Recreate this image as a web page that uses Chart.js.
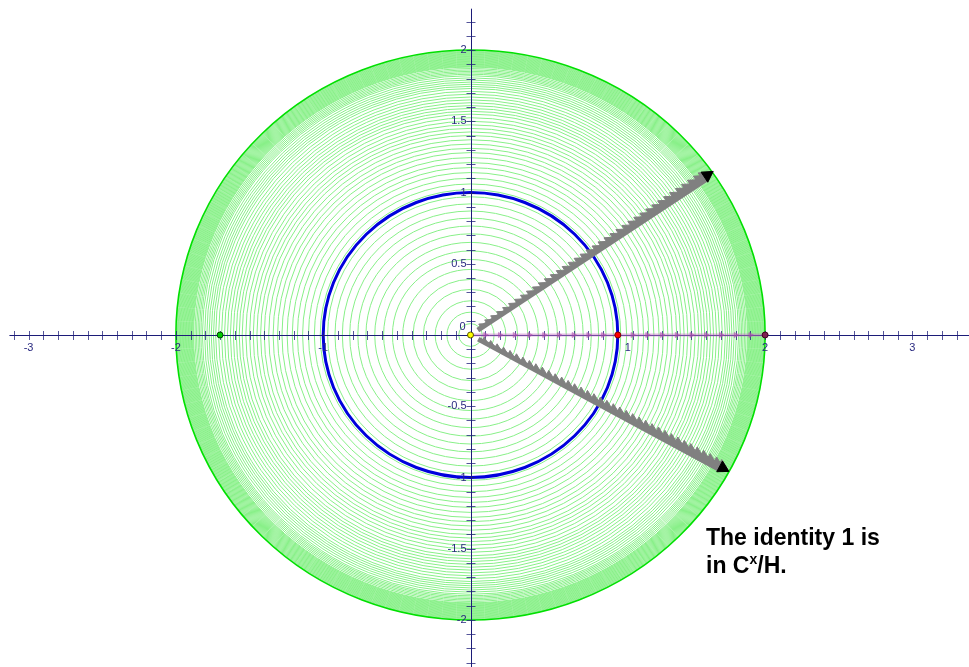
<!DOCTYPE html>
<html>
<head>
<meta charset="utf-8">
<script src="https://cdn.jsdelivr.net/npm/chart.js@4.4.1/dist/chart.umd.min.js"></script>
<style>
  body { margin: 0; background: #fff; }
  #wrap { position: relative; width: 969px; height: 667px; }
  #note {
    position: absolute; left: 706px; top: 523px;
    font: bold 23px "Liberation Sans", Arial, sans-serif;
    line-height: 28px; color: #000;
  }
  #note sup { font-size: 14px; line-height: 0; vertical-align: 9px; }
</style>
</head>
<body>
<div id="wrap">
  <canvas id="plane" width="969" height="667"></canvas>
  <div id="note">The identity 1 is<br>in C<sup>x</sup>/H.</div>
</div>
<script>
// view window of the complex plane
const xRange = [-3.194, 3.384];
const yRange = [-2.33, 2.351];

// tick labels on the axes
const xLabels = [-3, -2, -1, 1, 2, 3];
const yLabels = [2, 1.5, 1, 0.5, -0.5, -1, -1.5, -2];

// radii of the green circles (denser towards |z| = 2)
const greenRadii = [0.08, 0.16, 0.24, 0.32, 0.39, 0.46, 0.53, 0.59, 0.65, 0.71, 0.765, 0.82,
  0.87, 0.92, 0.97, 1.02, 1.06, 1.1, 1.14, 1.175, 1.21, 1.245, 1.28, 1.31, 1.34, 1.37, 1.4,
  1.425, 1.45, 1.475, 1.5, 1.525, 1.55, 1.57, 1.59, 1.61, 1.63, 1.65, 1.67, 1.69, 1.71, 1.73,
  1.745, 1.76, 1.775, 1.79, 1.805, 1.82, 1.83, 1.84, 1.85, 1.86, 1.87, 1.88, 1.885, 1.89,
  1.895, 1.9, 1.905, 1.91, 1.915, 1.92, 1.925, 1.93, 1.935, 1.94, 1.945, 1.95, 1.955, 1.96,
  1.965, 1.97, 1.975, 1.98, 1.985, 1.99, 1.995];
const outerRadius = 2;
const unitRadius = 1;

// the two rays of arrows (angle in degrees, arrow lengths)
const upperAngle = 34.3;
const lowerAngle = -29.2;
const arrowLengths = [0.1, 0.15, 0.2, 0.25, 0.3, 0.35, 0.4, 0.45, 0.5, 0.55, 0.6, 0.65, 0.7,
  0.75, 0.8, 0.85, 0.9, 0.95, 1.0, 1.05, 1.1, 1.15, 1.2, 1.25, 1.3, 1.35, 1.4, 1.45, 1.5, 1.55,
  1.6, 1.65, 1.7, 1.75, 1.8, 1.85, 1.9, 1.94];
const upperTip = 2.0;
const lowerTip = 1.99;

// arrows along the real axis
const realArrows = [0.1, 0.2, 0.3, 0.4, 0.5, 0.6, 0.7, 0.8, 0.9, 1.1, 1.2, 1.3, 1.4, 1.5,
  1.6, 1.7, 1.8, 1.9];

// marked points
const pointX = [0, 1, 2, -1.7];
const pointFill = ['#ffff00', '#ff0000', '#802050', '#00cc00'];
const pointEdge = ['#555500', '#800000', '#400020', '#004400'];

const axisColor = '#1c1c78';

function polar(r, deg, side) {
  const a = deg * Math.PI / 180;
  const s = side || 0;
  return { x: r * Math.cos(a) - s * Math.sin(a), y: r * Math.sin(a) + s * Math.cos(a) };
}

// screen rotation for a triangle pointing along a data direction
function screenRot(chart, deg) {
  const sx = chart.scales.x, sy = chart.scales.y;
  const p = polar(1, deg);
  const dx = sx.getPixelForValue(p.x) - sx.getPixelForValue(0);
  const dy = sy.getPixelForValue(p.y) - sy.getPixelForValue(0);
  return Math.atan2(dx, -dy) * 180 / Math.PI;
}

const circlesAndAxes = {
  id: 'circlesAndAxes',
  beforeDatasetsDraw(chart) {
    const c = chart.ctx;
    const sx = chart.scales.x, sy = chart.scales.y;
    const ox = sx.getPixelForValue(0), oy = sy.getPixelForValue(0);
    const ring = (r, color, w) => {
      const rx = sx.getPixelForValue(r) - ox;
      const ry = oy - sy.getPixelForValue(r);
      c.beginPath();
      c.ellipse(ox, oy, rx, ry, 0, 0, Math.PI * 2);
      c.strokeStyle = color;
      c.lineWidth = w;
      c.stroke();
    };
    c.save();
    greenRadii.forEach(r => ring(r, '#88f088', 1));
    ring(outerRadius, '#00e000', 1.6);
    ring(unitRadius, '#0000dd', 3);

    // axes
    c.strokeStyle = axisColor;
    c.lineWidth = 1;
    c.beginPath();
    c.moveTo(sx.getPixelForValue(-3.13), Math.round(oy) + 0.5);
    c.lineTo(chart.width, Math.round(oy) + 0.5);
    c.moveTo(Math.round(ox) + 0.5, sy.getPixelForValue(2.29));
    c.lineTo(Math.round(ox) + 0.5, chart.height);
    c.stroke();

    c.beginPath();
    for (let k = -31; k <= 33; k++) {
      const px = Math.round(sx.getPixelForValue(k / 10)) + 0.5;
      c.moveTo(px, oy - 4);
      c.lineTo(px, oy + 5);
    }
    for (let k = -23; k <= 22; k++) {
      const py = Math.round(sy.getPixelForValue(k / 10)) + 0.5;
      c.moveTo(ox - 4, py);
      c.lineTo(ox + 5, py);
    }
    c.strokeStyle = 'rgba(28,28,120,0.75)';
    c.stroke();

    c.fillStyle = '#2a2a80';
    c.font = '11px "Liberation Sans", Arial, sans-serif';
    c.textBaseline = 'middle';
    c.textAlign = 'center';
    xLabels.forEach(v => {
      const shift = v === 1 ? 10 : 0;
      c.fillText(String(v), sx.getPixelForValue(v) + shift, oy + 13);
    });
    c.textAlign = 'right';
    yLabels.forEach(v => {
      c.fillText(String(v), ox - 4, sy.getPixelForValue(v));
    });
    c.fillText('0', ox - 5, oy - 8);
    c.restore();
  }
};

function rayLine(deg, tip) {
  return {
    data: [polar(0.06, deg), polar(tip - 0.05, deg)],
    showLine: true, borderColor: '#808080', borderWidth: 5, pointRadius: 0
  };
}

// heads sit a little to the counter-clockwise side, giving the one-sided saw edge
function rayHeads(deg) {
  return {
    data: arrowLengths.map(r => polar(r, deg, 0.012 + 0.008 * r)),
    showLine: false,
    pointStyle: 'triangle',
    pointRadius: ctx => 3 + 4 * (ctx.raw ? Math.hypot(ctx.raw.x, ctx.raw.y) / 2 : 0),
    rotation: ctx => screenRot(ctx.chart, deg),
    backgroundColor: '#808080', borderColor: '#808080', borderWidth: 1
  };
}

function tipHead(deg, tip) {
  return {
    data: [polar(tip - 0.04, deg, 0.02)],
    pointStyle: 'triangle', pointRadius: 7,
    rotation: ctx => screenRot(ctx.chart, deg),
    backgroundColor: '#000', borderColor: '#000', borderWidth: 1
  };
}

// first dataset in the list is painted last (on top)
new Chart(document.getElementById('plane'), {
  type: 'scatter',
  data: {
    datasets: [
      {
        data: pointX.map(v => ({ x: v, y: 0 })),
        pointRadius: 3, borderWidth: 1,
        backgroundColor: pointFill, borderColor: pointEdge
      },
      tipHead(upperAngle, upperTip),
      tipHead(lowerAngle, lowerTip),
      rayHeads(upperAngle),
      rayHeads(lowerAngle),
      rayLine(upperAngle, upperTip),
      rayLine(lowerAngle, lowerTip),
      {
        data: realArrows.map(v => ({ x: v, y: 0 })),
        pointStyle: 'triangle', pointRadius: 3, rotation: 90,
        backgroundColor: 'rgba(170,70,170,0.45)', borderColor: 'rgba(170,70,170,0.45)', borderWidth: 1
      },
      {
        data: [{ x: 0, y: 0 }, { x: 2, y: 0 }],
        showLine: true, borderColor: 'rgba(200,120,200,0.5)', borderWidth: 3, pointRadius: 0
      }
    ]
  },
  options: {
    responsive: false,
    animation: false,
    layout: { padding: 0, autoPadding: false },
    plugins: { legend: { display: false }, tooltip: { enabled: false } },
    scales: {
      x: { type: 'linear', min: xRange[0], max: xRange[1], display: false },
      y: { type: 'linear', min: yRange[0], max: yRange[1], display: false }
    }
  },
  plugins: [circlesAndAxes]
});
</script>
</body>
</html>
